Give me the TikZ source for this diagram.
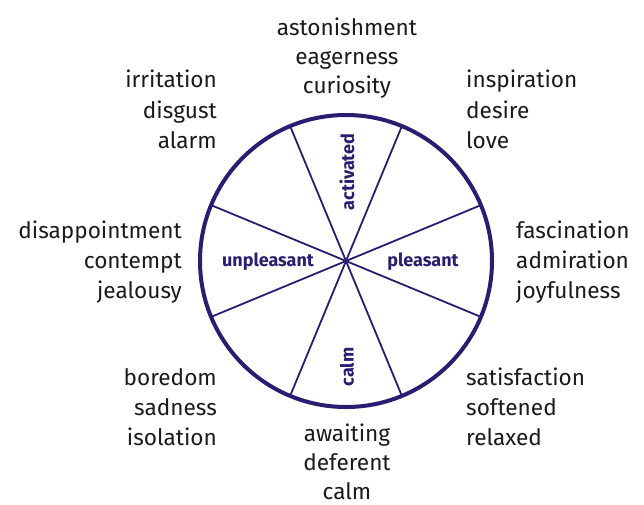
\documentclass[tikz,border=0pt]{standalone}
\usepackage{fontspec}
\usetikzlibrary{calc}
\setmainfont{Fira Sans}
\definecolor{wheel}{HTML}{2A1C70}
\definecolor{txt}{HTML}{1A1A1A}
\begin{document}
\begin{tikzpicture}[x=1pt,y=-1pt,
  emo/.style={font=\fontsize{22.6}{30}\selectfont, text=txt, inner sep=0pt},
  emoR/.style={emo, anchor=base east},
  emoL/.style={emo, anchor=base west},
  emoC/.style={emo, anchor=base},
  axis/.style={font=\fontsize{18}{20}\selectfont\bfseries, text=wheel, inner sep=0pt},
  rim/.style={draw=wheel, line width=4pt},
  spoke/.style={draw=wheel, line width=1.8pt}]
\useasboundingbox (0,0) rectangle (644,504);
\coordinate (c) at (346,261);
\foreach \a in {22.5,67.5,112.5,157.5}{
  \draw[spoke] ($(c)+(\a:146)$) -- ($(c)+(\a+180:146)$);
}
\draw[rim] (c) circle[radius=146];
\node[axis, rotate=90] (act) at (347,172) {activated};
\node[axis, rotate=90] (calm) at (347,367) {calm};
\node[axis] (ple) at (423,262) {pleasant};
\node[axis] (unp) at (268,262) {unpleasant};
% top
\node[emoC] (t1) at (347,35) {astonishment};
\node[emoC] (t2) at (347,64) {eagerness};
\node[emoC] (t3) at (347,93) {curiosity};
% top left
\node[emoR] (tl1) at (217,87) {irritation};
\node[emoR] (tl2) at (217,118) {disgust};
\node[emoR] (tl3) at (217,148) {alarm};
% top right
\node[emoL] (tr1) at (466,87) {inspiration};
\node[emoL] (tr2) at (466,118) {desire};
\node[emoL] (tr3) at (466,148) {love};
% middle left
\node[emoR] (ml1) at (182,238) {disappointment};
\node[emoR] (ml2) at (182,268) {contempt};
\node[emoR] (ml3) at (182,298) {jealousy};
% middle right
\node[emoL] (mr1) at (516,238) {fascination};
\node[emoL] (mr2) at (516,268) {admiration};
\node[emoL] (mr3) at (516,298) {joyfulness};
% bottom left
\node[emoR] (bl1) at (217,385) {boredom};
\node[emoR] (bl2) at (217,415) {sadness};
\node[emoR] (bl3) at (217,445) {isolation};
% bottom right
\node[emoL] (br1) at (466,385) {satisfaction};
\node[emoL] (br2) at (466,415) {softened};
\node[emoL] (br3) at (466,445) {relaxed};
% bottom
\node[emoC] (b1) at (347,441) {awaiting};
\node[emoC] (b2) at (347,470) {deferent};
\node[emoC] (b3) at (347,499) {calm};
\end{tikzpicture}
\end{document}
